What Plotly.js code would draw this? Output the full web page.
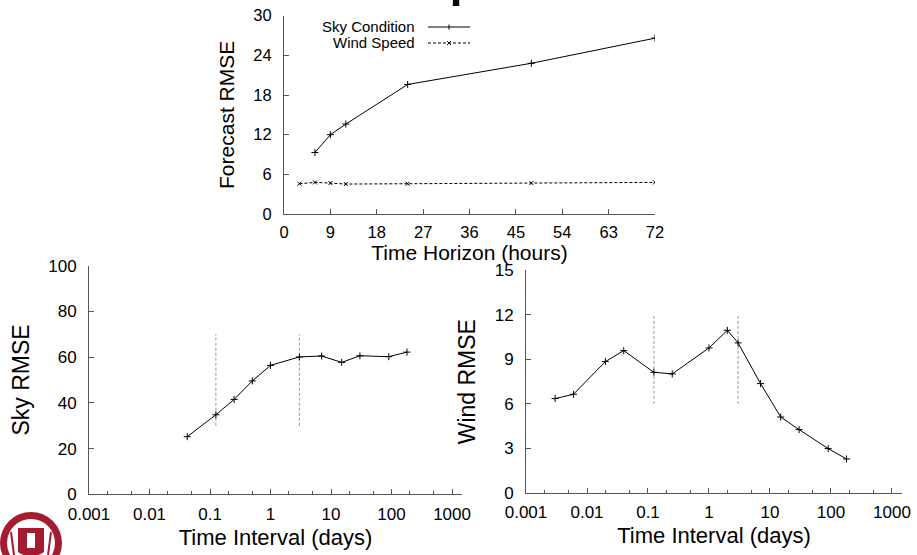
<!DOCTYPE html>
<html>
<head>
<meta charset="utf-8">
<script src="https://cdn.plot.ly/plotly-3.0.1.min.js"></script>
<style>
html,body{margin:0;padding:0;background:#fff;}
#chart{width:917px;height:555px;}
</style>
</head>
<body>
<div id="chart"></div>
<script>
// ---------- data ----------
const skyHorizonHours = [6, 9, 12, 24, 48, 72];
const skyHorizonRmse = [9.3, 12.0, 13.6, 19.6, 22.8, 26.6];
const windHorizonHours = [3, 6, 9, 12, 24, 48, 72];
const windHorizonRmse = [4.58, 4.78, 4.68, 4.53, 4.58, 4.68, 4.78];

const skyIntervalDays = [0.042, 0.125, 0.25, 0.5, 1, 3, 7, 15, 30, 90, 180];
const skyIntervalRmse = [25.2, 34.8, 41.5, 49.6, 56.4, 60.1, 60.5, 57.7, 60.6, 60.2, 62.2];

const windIntervalDays = [0.003, 0.006, 0.02, 0.04, 0.125, 0.25, 1, 2, 3, 7, 15, 30, 90, 180];
const windIntervalRmse = [6.36, 6.65, 8.85, 9.59, 8.13, 8.02, 9.77, 10.96, 10.11, 7.37, 5.12, 4.27, 2.99, 2.29];

const markerDays = [0.125, 3];
const skyMarkerSpan = [30, 70];
const windMarkerSpan = [6, 12];

const logTickVals = [0.001, 0.01, 0.1, 1, 10, 100, 1000];
const logTickText = ['0.001', '0.01', '0.1', '1', '10', '100', '1000'];

const seriesNames = ['Sky Condition', 'Wind Speed'];

// ---------- helpers ----------
const W = 917, H = 555;
const px = x => x / W;
const py = y => 1 - y / H;
const FONT = 'Liberation Sans, Arial, Helvetica, sans-serif';
const AX = '#555';
const MAROON = '#a51c30';

const traces = [];
traces.push({x: skyHorizonHours, y: skyHorizonRmse, xaxis: 'x', yaxis: 'y', mode: 'lines+markers', name: seriesNames[0],
  line: {color: '#000', width: 1}, marker: {symbol: 'cross-thin-open', size: 5, line: {color: '#000', width: 1}}});
traces.push({x: windHorizonHours, y: windHorizonRmse, xaxis: 'x', yaxis: 'y', mode: 'lines+markers', name: seriesNames[1],
  line: {color: '#000', width: 1, dash: '3px,2px'}, marker: {symbol: 'x-thin-open', size: 4, line: {color: '#000', width: 1}}});

markerDays.forEach(d => {
  traces.push({x: [d, d], y: skyMarkerSpan, xaxis: 'x2', yaxis: 'y2', mode: 'lines', line: {color: '#999', width: 1, dash: '3px,2px'}, hoverinfo: 'skip'});
  traces.push({x: [d, d], y: windMarkerSpan, xaxis: 'x3', yaxis: 'y3', mode: 'lines', line: {color: '#999', width: 1, dash: '3px,2px'}, hoverinfo: 'skip'});
});

traces.push({x: skyIntervalDays, y: skyIntervalRmse, xaxis: 'x2', yaxis: 'y2', mode: 'lines+markers', name: 'Sky RMSE',
  line: {color: '#000', width: 1}, marker: {symbol: 'cross-thin-open', size: 5, line: {color: '#000', width: 1}}});
traces.push({x: windIntervalDays, y: windIntervalRmse, xaxis: 'x3', yaxis: 'y3', mode: 'lines+markers', name: 'Wind RMSE',
  line: {color: '#000', width: 1}, marker: {symbol: 'cross-thin-open', size: 5, line: {color: '#000', width: 1}}});

function baseAxis(extra) {
  return Object.assign({
    showline: true, linecolor: AX, linewidth: 1, ticks: 'inside', ticklen: 5, tickcolor: AX, tickwidth: 1,
    showgrid: false, zeroline: false, tickfont: {family: FONT, size: 17, color: '#000'}, fixedrange: true
  }, extra);
}

const layout = {
  width: W, height: H,
  margin: {l: 0, r: 0, t: 0, b: 0},
  paper_bgcolor: '#fff', plot_bgcolor: '#fff',
  showlegend: false,
  font: {family: FONT, color: '#000'},
  xaxis: baseAxis({domain: [px(284), px(655)], anchor: 'y', range: [0, 72], tick0: 0, dtick: 9, ticklabelstandoff: 3,
    tickfont: {family: FONT, size: 16.5, color: '#000'},
    title: {text: 'Time Horizon (hours)', font: {family: FONT, size: 21, color: '#000'}, standoff: 1}}),
  yaxis: baseAxis({domain: [py(214), py(15.7)], anchor: 'x', range: [0, 30], tick0: 0, dtick: 6, ticklabelstandoff: 8,
    tickfont: {family: FONT, size: 16.5, color: '#000'},
    title: {text: 'Forecast RMSE', font: {family: FONT, size: 21, color: '#000'}, standoff: 12}}),
  xaxis2: baseAxis({domain: [px(89), px(462)], anchor: 'y2', type: 'log', range: [-3, Math.log10(1460)],
    tickmode: 'array', tickvals: logTickVals, ticktext: logTickText, ticklabelstandoff: 4,
    minor: {dtick: 'D2', ticks: 'inside', ticklen: 3, tickcolor: AX, showgrid: false},
    title: {text: 'Time Interval (days)', font: {family: FONT, size: 22, color: '#000'}, standoff: 6}}),
  yaxis2: baseAxis({domain: [py(494.3), py(265.7)], anchor: 'x2', range: [0, 100], tick0: 0, dtick: 20, ticklabelstandoff: 8,
    title: {text: 'Sky RMSE', font: {family: FONT, size: 23, color: '#000'}, standoff: 12}}),
  xaxis3: baseAxis({domain: [px(526), px(902)], anchor: 'y3', type: 'log', range: [-3, Math.log10(1460)],
    tickmode: 'array', tickvals: logTickVals, ticktext: logTickText, ticklabelstandoff: 4,
    minor: {dtick: 'D2', ticks: 'inside', ticklen: 3, tickcolor: AX, showgrid: false},
    title: {text: 'Time Interval (days)', font: {family: FONT, size: 22, color: '#000'}, standoff: 6}}),
  yaxis3: baseAxis({domain: [py(493), py(270.3)], anchor: 'x3', range: [0, 15], tick0: 0, dtick: 3, ticklabelstandoff: 8,
    title: {text: 'Wind RMSE', font: {family: FONT, size: 23, color: '#000'}, standoff: 12}}),
  annotations: [
    {xref: 'paper', yref: 'paper', x: px(417), y: py(27), xanchor: 'right', yanchor: 'middle', showarrow: false,
      text: seriesNames[0], font: {family: FONT, size: 15, color: '#000'}},
    {xref: 'paper', yref: 'paper', x: px(417), y: py(43), xanchor: 'right', yanchor: 'middle', showarrow: false,
      text: seriesNames[1], font: {family: FONT, size: 15, color: '#000'}},
    {xref: 'paper', yref: 'paper', x: px(446), y: 1 + 34 / H, xanchor: 'left', yanchor: 'middle', showarrow: false,
      text: 'p', font: {family: FONT, size: 72, color: '#000'}}
  ],
  shapes: [
    // legend samples
    {type: 'line', xref: 'paper', yref: 'paper', x0: px(428), x1: px(470), y0: py(27), y1: py(27), line: {color: '#000', width: 1}},
    {type: 'line', xref: 'paper', yref: 'paper', x0: px(449), x1: px(449), y0: py(24.5), y1: py(29.5), line: {color: '#000', width: 1}},
    {type: 'line', xref: 'paper', yref: 'paper', x0: px(428), x1: px(470), y0: py(43), y1: py(43), line: {color: '#000', width: 1, dash: '3px,2px'}},
    {type: 'path', xref: 'paper', yref: 'paper',
      path: `M${px(447)},${py(41)} L${px(451)},${py(45)} M${px(447)},${py(45)} L${px(451)},${py(41)}`, line: {color: '#000', width: 1}},
    // seal (decorative)
    {type: 'circle', xref: 'paper', yref: 'paper', x0: px(0), x1: px(62), y0: py(574), y1: py(512), fillcolor: MAROON, line: {width: 0}},
    {type: 'circle', xref: 'paper', yref: 'paper', x0: px(7), x1: px(55), y0: py(567), y1: py(519), fillcolor: '#fff', line: {width: 0}},
    {type: 'path', xref: 'paper', yref: 'paper',
      path: `M${px(18)},${py(528)} L${px(44)},${py(528)} L${px(44)},${py(552)} Q${px(31)},${py(561)} ${px(18)},${py(552)} Z`,
      fillcolor: MAROON, line: {width: 0}},
    {type: 'rect', xref: 'paper', yref: 'paper', x0: px(27), x1: px(35), y0: py(548), y1: py(533), fillcolor: '#fff', line: {width: 0}},
    {type: 'line', xref: 'paper', yref: 'paper', x0: px(11), x1: px(14), y0: py(532), y1: py(555), line: {color: MAROON, width: 2}},
    {type: 'line', xref: 'paper', yref: 'paper', x0: px(51), x1: px(48), y0: py(532), y1: py(555), line: {color: MAROON, width: 2}}
  ]
};

Plotly.newPlot('chart', traces, layout, {staticPlot: true, displayModeBar: false});
</script>
</body>
</html>
